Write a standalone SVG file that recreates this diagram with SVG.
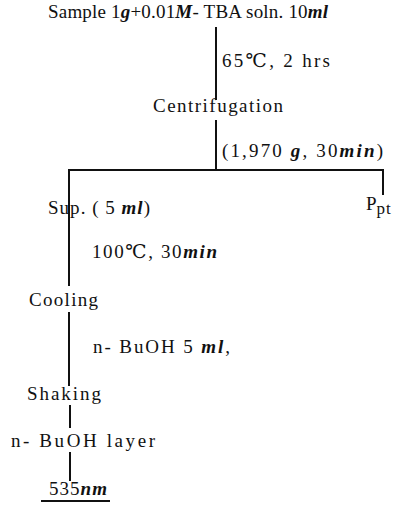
<svg xmlns="http://www.w3.org/2000/svg" width="402" height="505" viewBox="0 0 402 505">
<style>
text{font-family:"Liberation Serif","DejaVu Serif",serif;font-size:19px;fill:#111}
.i{font-style:italic;font-weight:bold}
.s{font-size:17px;letter-spacing:1px}
line{stroke:#111;stroke-width:2;fill:none}
</style>
<rect width="402" height="505" fill="#fff"/>
<g id="connectors">
<line x1="216" y1="27" x2="216" y2="100"/>
<line x1="216" y1="120" x2="216" y2="171"/>
<line x1="68" y1="170" x2="384" y2="170"/>
<line x1="383" y1="170" x2="383" y2="195"/>
<line x1="69" y1="169" x2="69" y2="286"/>
<line x1="69" y1="312" x2="69" y2="386"/>
<line x1="70" y1="405" x2="70" y2="428"/>
<line x1="70" y1="452" x2="70" y2="481"/>
</g>
<g id="sample"><text x="48" y="18" textLength="280" lengthAdjust="spacing">Sample 1<tspan class="i">g</tspan>+0.01<tspan class="i">M</tspan>- TBA soln. 10<tspan class="i">ml</tspan></text></g>
<g id="cond1"><text x="222" y="67" textLength="108" lengthAdjust="spacing">65℃, 2 hrs</text></g>
<g id="centrifugation"><text x="153" y="112" textLength="130" lengthAdjust="spacing">Centrifugation</text></g>
<g id="cond2"><text x="222" y="157" textLength="161" lengthAdjust="spacing">(1,970 <tspan class="i">g</tspan>, 30<tspan class="i">min</tspan>)</text></g>
<g id="sup"><text x="48" y="214" textLength="102" lengthAdjust="spacing">Sup. ( 5 <tspan class="i">ml</tspan>)</text></g>
<g id="ppt"><text x="366" y="210" font-size="20">P<tspan class="s" dy="4">pt</tspan></text></g>
<g id="cond3"><text x="92" y="258" textLength="125" lengthAdjust="spacing">100℃, 30<tspan class="i">min</tspan></text></g>
<g id="cooling"><text x="29" y="306" textLength="69" lengthAdjust="spacing">Cooling</text></g>
<g id="cond4"><text x="93" y="353" textLength="137" lengthAdjust="spacing">n- BuOH 5 <tspan class="i">ml</tspan>,</text></g>
<g id="shaking"><text x="27" y="400" textLength="74" lengthAdjust="spacing">Shaking</text></g>
<g id="layer"><text x="11" y="447" textLength="144" lengthAdjust="spacing">n- BuOH layer</text></g>
<g id="result"><text x="49" y="495" textLength="58" lengthAdjust="spacing">535<tspan class="i">nm</tspan></text><line x1="41" y1="501" x2="110" y2="501"/></g>
</svg>
